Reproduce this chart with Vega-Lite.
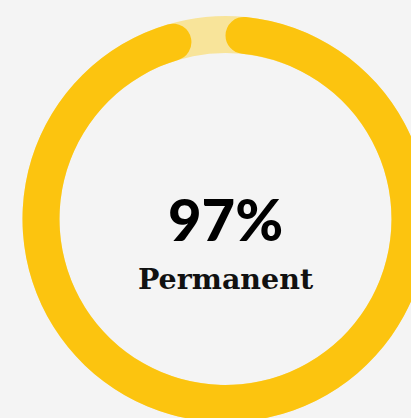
{
  "$schema": "https://vega.github.io/schema/vega-lite/v6.json",
  "autosize": {"type": "fit", "contains": "padding"},
  "width": 411,
  "height": 418,
  "padding": {"left": 40, "right": 0, "top": 20, "bottom": 0},
  "background": "#f4f4f4",
  "config": {"view": {"stroke": null}},
  "layer": [
    {
      "data": {"values": [
        {"part": "track", "start": 0, "end": 100},
        {"part": "Permanent", "start": 0, "end": 97}
      ]},
      "mark": {"type": "arc", "outerRadius": 203, "innerRadius": 166, "cornerRadius": 18.5},
      "encoding": {
        "theta": {"field": "start", "type": "quantitative", "scale": {"domain": [0, 100]}, "stack": null},
        "theta2": {"field": "end"},
        "color": {"field": "part", "type": "nominal", "scale": {"domain": ["track", "Permanent"], "range": ["#f8e49a", "#fcc40f"]}, "legend": null}
      }
    },
    {
      "data": {"values": [{"label": "97%"}]},
      "mark": {"type": "text", "font": "Lato", "fontWeight": 900, "fontSize": 58, "color": "#000000", "baseline": "alphabetic", "align": "center", "dy": 22},
      "encoding": {"text": {"field": "label"}}
    },
    {
      "data": {"values": [{"label": "Permanent"}]},
      "mark": {"type": "text", "font": "DejaVu Serif", "fontWeight": "bold", "fontSize": 28.5, "color": "#111111", "baseline": "alphabetic", "align": "center", "dy": 70},
      "encoding": {"text": {"field": "label"}}
    }
  ]
}
